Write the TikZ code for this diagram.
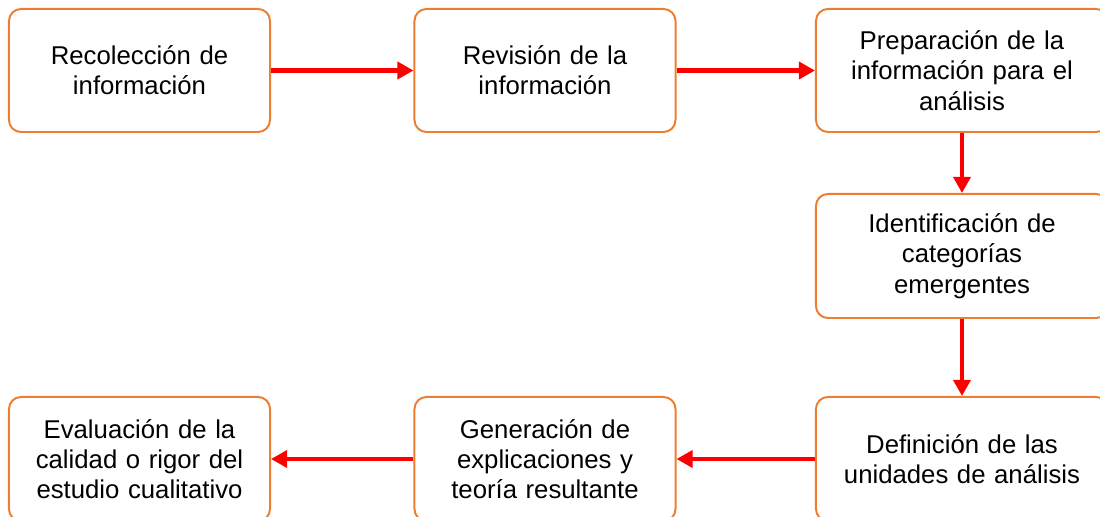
\documentclass[tikz,border=0pt]{standalone}
\usepackage{fontspec}
\setmainfont{Liberation Sans}
\usetikzlibrary{arrows.meta}
\definecolor{boxorange}{RGB}{237,125,49}

\begin{document}
\begin{tikzpicture}[x=0.025cm, y=-0.025cm,
    etapa/.style={draw=boxorange, line width=1.4pt, rounded corners=0.3cm, fill=white,
        align=center, minimum width=6.525cm, minimum height=3.075cm, text width=6.2cm,
        font=\fontsize{18.3}{21.5}\selectfont},
    ancha/.style={etapa, minimum width=7.3cm, text width=6.9cm},
    flecha/.style={draw=red, line width=3.4pt, -{Triangle[length=0.4cm, width=0.42cm]}}]
    \path[use as bounding box, clip] (0, 0) rectangle (1100, 517);
    \node[etapa] (recoleccion) at (139.5, 70.5) {Recolección de\\información};
    \node[etapa] (revision) at (545, 70.5) {Revisión de la\\información};
    \node[ancha] (preparacion) at (962, 70.5) {Preparación de la\\información para el\\análisis};
    \node[ancha, minimum height=3.1cm] (identificacion) at (962, 256) {Identificación de\\categorías\\emergentes};
    \node[ancha, minimum height=3.1cm] (definicion) at (962, 459) {Definición de las\\unidades de análisis};
    \node[etapa, minimum height=3.1cm] (generacion) at (545, 459) {Generación de\\explicaciones y\\teoría resultante};
    \node[etapa, minimum height=3.1cm] (evaluacion) at (139.5, 459) {Evaluación de la\\calidad o rigor del\\estudio cualitativo};
    \draw[flecha] (recoleccion) -- (revision);
    \draw[flecha] (revision) -- (preparacion);
    \draw[flecha] (preparacion) -- (identificacion);
    \draw[flecha] (identificacion) -- (definicion);
    \draw[flecha] (definicion) -- (generacion);
    \draw[flecha] (generacion) -- (evaluacion);
\end{tikzpicture}
\end{document}
